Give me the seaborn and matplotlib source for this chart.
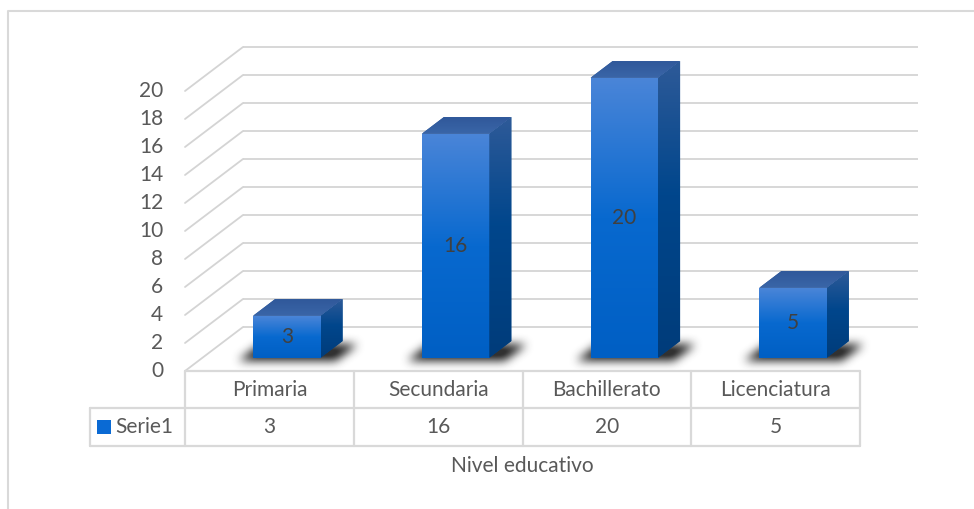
import numpy as np
import matplotlib
matplotlib.use("Agg")
import matplotlib.pyplot as plt
import seaborn as sns
from matplotlib.patches import Polygon, Rectangle
from matplotlib.colors import LinearSegmentedColormap

# ---- data -------------------------------------------------------------
categories = ["Primaria", "Secundaria", "Bachillerato", "Licenciatura"]
values = [3, 16, 20, 5]
series_name = "Serie1"
axis_title = "Nivel educativo"
y_ticks = list(range(0, 21, 2))

# ---- layout (pixels) --------------------------------------------------
W, H = 974, 509
X0_PX, CAT_PX = 185, 168.75      # left edge of floor front, width of one category
Y0_PX, UNIT_PX = 371, 14         # floor front line, pixels per value unit
DEPTH_X_PX, DEPTH_Y_PX = 58, 44  # oblique depth of the 3D box
ROW1_PX, ROW2_PX = 37, 38        # data table row heights
LEGEND_LEFT_PX = 90
FS = 15

sns.set_theme(style="white")
plt.rcParams["font.family"] = ["Lato", "DejaVu Sans"]

fig = plt.figure(figsize=(W / 100, H / 100), dpi=100)
ax = fig.add_axes([0, 0, 1, 1])

DX = DEPTH_X_PX / CAT_PX
DY = DEPTH_Y_PX / UNIT_PX
n = len(categories)
left, right = -0.5, n - 0.5
grid_c = "#D4D4D4"
text_c = "#595959"

# ---- bars (front faces come from seaborn) -----------------------------
F1, F2 = 0.30, 0.68   # front and back planes of the bars within the depth
BAR_W = 0.40
sns.barplot(x=categories, y=values, width=BAR_W, color="#0A6BD0",
            ax=ax, zorder=4, saturation=1)
ax.set_xlim(-X0_PX / CAT_PX - 0.5, (W - X0_PX) / CAT_PX - 0.5)
ax.set_ylim(-(H - Y0_PX) / UNIT_PX, Y0_PX / UNIT_PX)
ax.axis("off")

# ---- walls: back-wall gridlines and side-wall diagonals ---------------
for v in y_ticks:
    ax.plot([left + DX, right + DX], [v + DY, v + DY], color=grid_c, lw=1.3,
            zorder=1, solid_capstyle="butt")
    ax.plot([left, left + DX], [v, v + DY], color=grid_c, lw=1.3, zorder=1)
    ax.text(left - 0.13, v, str(v), ha="right", va="center",
            fontsize=FS, color=text_c)

front_cmap = LinearSegmentedColormap.from_list(
    "front", [(0, "#005FC4"), (0.5, "#0869CF"), (1.0, "#4A85D8")])
side_cmap = LinearSegmentedColormap.from_list(
    "side", [(0, "#003C7A"), (0.55, "#00468C"), (1.0, "#2E5A98")])
top_cmap = LinearSegmentedColormap.from_list(
    "top", [(0, "#3A66A8"), (1.0, "#30589A")])
ramp = np.linspace(0, 1, 256).reshape(-1, 1)


def soft_shadow(xl, xr, zorder):
    """Blurred floor shadow around a bar footprint."""
    grow = 15 / CAT_PX
    ax0, ay0 = xl + F1 * DX - grow, F1 * DY - 3 / UNIT_PX
    ddx, ddy = (F2 - F1) * DX, (F2 - F1) * DY
    w = xr - xl + 2 * grow
    pad_x, pad_y = 34 / CAT_PX, 18 / UNIT_PX
    ex = (ax0 - pad_x, ax0 + w + ddx + pad_x)
    ey = (ay0 - pad_y, ay0 + ddy + pad_y)
    nx = int((ex[1] - ex[0]) * CAT_PX)
    ny = int((ey[1] - ey[0]) * UNIT_PX)
    gx, gy = np.meshgrid(np.linspace(*ex, nx), np.linspace(*ey, ny))
    t = (gy - ay0) / ddy
    s = (gx - ax0 - t * ddx) / w
    mask = ((t >= 0) & (t <= 1) & (s >= 0) & (s <= 1)).astype(float)
    k = np.ones(9) / 9
    for _ in range(3):
        mask = np.apply_along_axis(lambda r: np.convolve(r, k, "same"), 1, mask)
        mask = np.apply_along_axis(lambda c: np.convolve(c, k, "same"), 0, mask)
    rgba = np.zeros((ny, nx, 4))
    rgba[..., :3] = 0.15
    rgba[..., 3] = np.clip(mask * 1.1, 0, 0.95)
    ax.imshow(rgba, extent=[ex[0], ex[1], ey[0], ey[1]], origin="lower",
              aspect="auto", interpolation="bilinear", zorder=zorder)


for p, v in zip(ax.patches, values):
    p.set_x(p.get_x() + F1 * DX)
    p.set_y(F1 * DY)
    p.set_edgecolor("none")
    xl, xr = p.get_x(), p.get_x() + p.get_width()
    y0, y1 = p.get_y(), p.get_y() + p.get_height()
    ddx, ddy = (F2 - F1) * DX, (F2 - F1) * DY

    soft_shadow(xl - F1 * DX, xr - F1 * DX, zorder=2)

    im = ax.imshow(ramp, extent=[xl, xr, y0, y1], origin="lower",
                   cmap=front_cmap, aspect="auto", zorder=4.5)
    im.set_clip_path(p)

    side = Polygon([(xr, y0), (xr + ddx, y0 + ddy), (xr + ddx, y1 + ddy),
                    (xr, y1)], closed=True, facecolor="#00468C",
                   edgecolor="none", zorder=4)
    ax.add_patch(side)
    ims = ax.imshow(ramp, extent=[xr, xr + ddx, y0, y1 + ddy], origin="lower",
                    cmap=side_cmap, aspect="auto", zorder=4.5)
    ims.set_clip_path(side)

    top = Polygon([(xl, y1), (xr, y1), (xr + ddx, y1 + ddy),
                   (xl + ddx, y1 + ddy)], closed=True, facecolor="#3560A0",
                  edgecolor="none", zorder=4)
    ax.add_patch(top)
    imt = ax.imshow(ramp, extent=[xl, xr + ddx, y1, y1 + ddy], origin="lower",
                    cmap=top_cmap, aspect="auto", zorder=4.5)
    imt.set_clip_path(top)

labels = ax.bar_label(ax.containers[0], labels=[str(v) for v in values],
                      label_type="center", fontsize=FS, color="#404040")
for t in labels:
    t.set_zorder(6)

# ---- data table -------------------------------------------------------
h1 = ROW1_PX / UNIT_PX
h2 = ROW2_PX / UNIT_PX
leg_left = (LEGEND_LEFT_PX - X0_PX) / CAT_PX - 0.5
tab_c = "#D9D9D9"
lw = 1.6
ax.plot([left, right], [0, 0], color=tab_c, lw=lw, zorder=3)
ax.plot([leg_left, right], [-h1, -h1], color=tab_c, lw=lw, zorder=3)
ax.plot([leg_left, right], [-h1 - h2, -h1 - h2], color=tab_c, lw=lw, zorder=3)
for i in range(n + 1):
    ax.plot([i - 0.5, i - 0.5], [0, -h1 - h2], color=tab_c, lw=lw, zorder=3)
ax.plot([leg_left, leg_left], [-h1, -h1 - h2], color=tab_c, lw=lw, zorder=3)

for i, (c, v) in enumerate(zip(categories, values)):
    ax.text(i, -h1 / 2, c, ha="center", va="center", fontsize=FS, color=text_c)
    ax.text(i, -h1 - h2 / 2, str(v), ha="center", va="center",
            fontsize=FS, color=text_c)

ax.add_patch(Rectangle((leg_left + 7 / CAT_PX, -h1 - h2 / 2 - 7 / UNIT_PX),
                       14 / CAT_PX, 14 / UNIT_PX, facecolor="#0A6AD4",
                       edgecolor="none", zorder=5))
ax.text(leg_left + 25 / CAT_PX, -h1 - h2 / 2, series_name, ha="left",
        va="center", fontsize=FS, color=text_c)

ax.text((n - 1) / 2, -h1 - h2 - 20 / UNIT_PX, axis_title, ha="center",
        va="center", fontsize=FS, color=text_c)

# ---- chart area border ------------------------------------------------
fig.add_artist(plt.Line2D([8 / W, 8 / W, 1.0], [0.0, 1 - 11 / H, 1 - 11 / H],
                          transform=fig.transFigure, color="#D9D9D9", lw=1.5))

fig.savefig("out.png", dpi=100)
